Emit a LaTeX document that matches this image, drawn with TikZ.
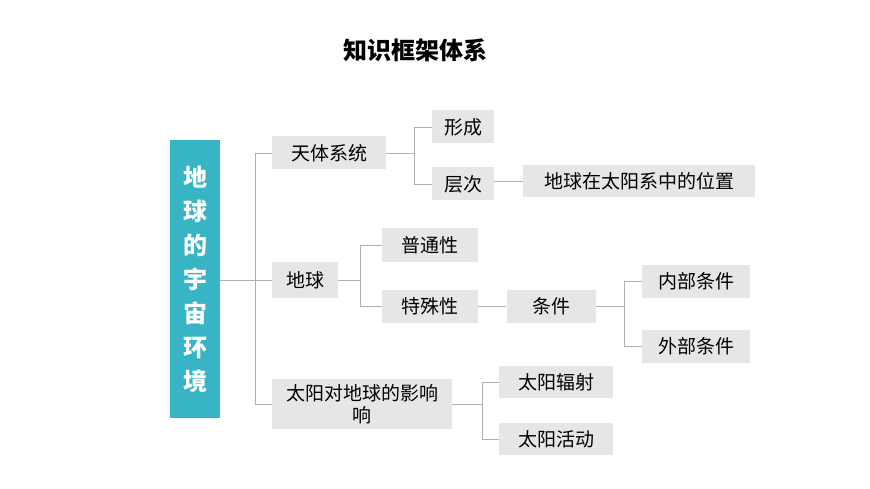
\documentclass[tikz,border=0pt]{standalone}
\usepackage{fontspec}
\setmainfont{Noto Sans CJK SC}
\tikzset{
  box/.style={fill=boxgray, inner sep=0pt, font=\fontsize{19}{22}\selectfont},
  link/.style={draw=linegray, line width=0.8pt},
}
\definecolor{boxgray}{RGB}{231,230,230}
\definecolor{linegray}{RGB}{175,175,175}
\definecolor{teal}{RGB}{56,181,196}
\begin{document}
\begin{tikzpicture}[x=1pt, y=-1pt, line join=round]
\useasboundingbox (0,0) rectangle (870,489);
\node[font=\fontsize{24}{28}\selectfont\bfseries] (title) at (415,50) {知识框架体系};
% root
\node[fill=teal, text=white, minimum width=50pt, minimum height=278pt, inner sep=0pt,
      align=center, font=\fontsize{24}{34}\selectfont\bfseries] (root) at (195,279)
      {地\\球\\的\\宇\\宙\\环\\境};
% first level
\node[box, minimum width=114pt, minimum height=33pt] (tianti) at (329,153) {天体系统};
\node[box, minimum width=66pt, minimum height=36pt] (diqiu) at (305,280) {地球};
\node[box, minimum width=180pt, minimum height=50pt, align=center, text width=170pt] (taiyang) at (362,404) {太阳对地球的影响\\响};
% second level
\node[box, minimum width=62pt, minimum height=33pt] (xingcheng) at (463,127) {形成};
\node[box, minimum width=62pt, minimum height=33pt] (cengci) at (463,184) {层次};
\node[box, minimum width=232pt, minimum height=32pt] (weizhi) at (639,181) {地球在太阳系中的位置};
\node[box, minimum width=96pt, minimum height=34pt] (putong) at (430,245) {普通性};
\node[box, minimum width=96pt, minimum height=33pt] (teshu) at (430,306) {特殊性};
\node[box, minimum width=89pt, minimum height=33pt] (tiaojian) at (551,306) {条件};
\node[box, minimum width=108pt, minimum height=33pt] (neibu) at (696,281) {内部条件};
\node[box, minimum width=108pt, minimum height=33pt] (waibu) at (696,346) {外部条件};
\node[box, minimum width=114pt, minimum height=32pt] (fushe) at (556,382) {太阳辐射};
\node[box, minimum width=114pt, minimum height=32pt] (huodong) at (556,439) {太阳活动};
% branch points
\coordinate (b0) at (255,280);
\coordinate (b1) at (414,153);
\coordinate (b2) at (360,280);
\coordinate (b3) at (624,306);
\coordinate (b4) at (482,404);
% connectors
\draw[link] (root.east |- b0) -- (b0) (b0 |- tianti) -- (b0 |- taiyang)
  (b0 |- tianti) -- (tianti.west) (b0) -- (diqiu.west) (b0 |- taiyang) -- (taiyang.west);
\draw[link] (tianti.east) -- (b1) (b1 |- xingcheng) -- (b1 |- cengci)
  (b1 |- xingcheng) -- (xingcheng.west) (b1 |- cengci) -- (cengci.west);
\draw[link] (cengci.east |- weizhi) -- (weizhi.west);
\draw[link] (diqiu.east) -- (b2) (b2 |- putong) -- (b2 |- teshu)
  (b2 |- putong) -- (putong.west) (b2 |- teshu) -- (teshu.west);
\draw[link] (teshu.east) -- (tiaojian.west);
\draw[link] (tiaojian.east) -- (b3) (b3 |- neibu) -- (b3 |- waibu)
  (b3 |- neibu) -- (neibu.west) (b3 |- waibu) -- (waibu.west);
\draw[link] (taiyang.east) -- (b4) (b4 |- fushe) -- (b4 |- huodong)
  (b4 |- fushe) -- (fushe.west) (b4 |- huodong) -- (huodong.west);
\end{tikzpicture}
\end{document}
